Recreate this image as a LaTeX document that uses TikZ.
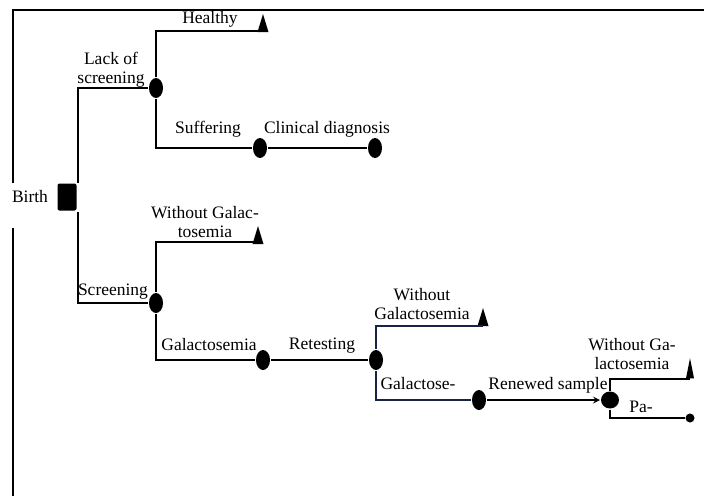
\documentclass[tikz,border=0pt]{standalone}
\usepackage{fontspec}
\setmainfont{Liberation Serif}
\usepackage{tikz}
\usetikzlibrary{shapes.geometric}

\definecolor{darkblue}{RGB}{25,35,70}

\begin{document}
\begin{tikzpicture}[x=1pt, y=-1pt, line width=2pt,
    every node/.style={inner sep=0pt, font=\fontsize{17.5}{19}\selectfont},
    decision/.style={rectangle, fill=black, rounded corners=2pt, minimum width=19pt, minimum height=27pt},
    chance/.style={ellipse, fill=black, minimum width=14pt, minimum height=20pt},
    terminal/.style={isosceles triangle, isosceles triangle apex angle=40, isosceles triangle stretches,
        shape border rotate=90, fill=black, minimum width=11pt, minimum height=18pt},
    lbl/.style={align=center}]
    \useasboundingbox (0,0) rectangle (704,496);

    % frame
    \draw[line width=1.3pt] (13,183) -- (13,10) -- (704,10);
    \draw[line width=1.3pt] (13,228) -- (13,496);

    \node (birth) [decision] at (67,197) {};
    \node (birthtxt) [lbl] at (30,197) {Birth};

    % without screening
    \node (lack) [chance] at (156,88) {};
    \node (healthy) [terminal] at (263,28) {};
    \node (suffer) [chance] at (260,148) {};
    \node (clinic) [chance] at (375,148) {};

    % screening
    \node (screen) [chance] at (156,303) {};
    \node (nogal) [terminal] at (258,240) {};
    \node (galac) [chance] at (263,360) {};
    \node (retest) [chance] at (376,360) {};
    \node (nogalb) [terminal] at (483,322) {};
    \node (galacb) [chance] at (479,400) {};
    \node (renew) [chance, minimum width=18pt, minimum height=17pt] at (610,400) {};
    \node (nogalc) [terminal, minimum width=8pt, minimum height=20pt] at (690,375) {};
    \node (pa) [circle, fill=black, minimum size=9pt] at (690,418) {};

    \draw (birth.north east) |- (lack);
    \draw (birth.south east) |- (screen);
    \draw (lack) |- ([yshift=-3pt]healthy.center);
    \draw (lack) |- (suffer);
    \draw (suffer) -- (clinic);
    \draw (screen) |- ([yshift=-2pt]nogal.center);
    \draw (screen) |- (galac);
    \draw (galac) -- (retest);
    \draw[darkblue] (retest) |- ([yshift=-4pt]nogalb.center);
    \draw[darkblue] (retest) |- (galacb);
    \draw[->, >=stealth] (galacb) -- (renew);
    \draw (renew) |- ([yshift=-4pt]nogalc.center);
    \draw (renew) |- (pa);

    \node (t1) [lbl] at (210,19) {Healthy};
    \node (t2) [lbl] at (111,70) {Lack of\\screening};
    \node (t3) [lbl] at (208,129) {Suffering};
    \node (t4) [lbl] at (327,129) {Clinical diagnosis};
    \node (t5) [lbl] at (205,222) {Without Galac-\\tosemia};
    \node (t6) [lbl] at (113,292) {Screening};
    \node (t7) [lbl] at (209,345) {Galactosemia};
    \node (t8) [lbl] at (322,346) {Retesting};
    \node (t9) [lbl] at (422,304) {Without\\Galactosemia};
    \node (t10) [lbl] at (418,384) {Galactose-};
    \node (t11) [lbl] at (548,385) {Renewed sample};
    \node (t12) [lbl] at (632,354) {Without Ga-\\lactosemia};
    \node (t13) [lbl] at (641,407) {Pa-};
\end{tikzpicture}
\end{document}
